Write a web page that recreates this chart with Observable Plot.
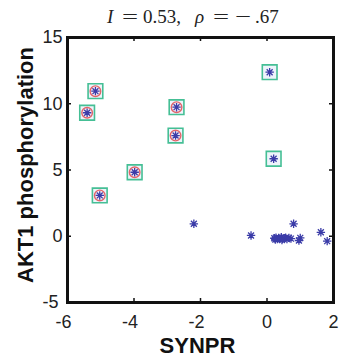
<!DOCTYPE html>
<html>
<head>
<meta charset="utf-8">
<script src="https://cdn.jsdelivr.net/npm/d3@7"></script>
<script src="https://cdn.jsdelivr.net/npm/@observablehq/plot@0.6"></script>
<style>
  html, body { margin: 0; padding: 0; background: #fff; }
  #wrap { width: 339px; }
  #title { position: relative; height: 30px; width: 339px;
    font-family: "Liberation Serif", "DejaVu Serif", serif; font-size: 19px; color: #222; line-height: 19px; }
  #title span { position: absolute; top: 7px; white-space: nowrap; display: inline-block; }
  #title .w { transform: scaleX(1.5); transform-origin: left center; }
</style>
</head>
<body>
<div id="wrap">
  <div id="title" aria-label="I = 0.53, ρ = −.67"><span style="left:107px"><i>I</i></span><span class="w" style="left:122px">=</span><span style="left:143px">0.53,</span><span style="left:195px"><i>ρ</i></span><span class="w" style="left:213px">=</span><span class="w" style="left:235px">−</span><span style="left:255px">.67</span></div>
  <div id="chart"></div>
</div>
<script>
// Selected points (blue star + red circle + green square)
const selX = [-5.16, -5.41, -2.72, -2.75, -3.98, -5.03];
const selY = [10.95, 9.32, 9.74, 7.60, 4.83, 3.08];
// Points with star + green square only
const boxX = [0.08, 0.20];
const boxY = [12.38, 5.85];
// Plain star points
const otherX = [-2.20, -0.48, 0.80, 1.00, 0.96, 1.62, 1.81, 0.22, 0.27, 0.31, 0.35, 0.39, 0.43, 0.47, 0.52, 0.56, 0.60, 0.66, 0.72, 0.25, 0.45];
const otherY = [0.94, 0.06, 0.94, -0.12, -0.32, 0.30, -0.37, -0.15, -0.10, -0.22, -0.12, -0.18, -0.08, -0.20, -0.14, -0.10, -0.22, -0.12, -0.18, -0.25, -0.28];
const xTicks = [-6, -4, -2, 0, 2];
const yTicks = [-5, 0, 5, 10, 15];
const xLabel = "SYNPR";
const yLabel = "AKT1 phosphorylation";

const sel = selX.map((x, i) => ({x, y: selY[i]}));
const box = boxX.map((x, i) => ({x, y: boxY[i]}));
const other = otherX.map((x, i) => ({x, y: otherY[i]}));
const allStars = [...sel, ...box, ...other];
const boxed = [...sel, ...box];

const asterisk8 = {
  draw(ctx, size) {
    const r = Math.sqrt(size / Math.PI);
    const d = r * Math.SQRT1_2;
    ctx.moveTo(-r, 0); ctx.lineTo(r, 0);
    ctx.moveTo(0, -r); ctx.lineTo(0, r);
    ctx.moveTo(-d, -d); ctx.lineTo(d, d);
    ctx.moveTo(-d, d); ctx.lineTo(d, -d);
  }
};

const fmt = d => String(d);
const tickFont = {fontSize: 18, fill: "#222"};
const fw = 266, fh = 265;

const chart = Plot.plot({
  width: 339,
  height: 328,
  marginLeft: 67,
  marginRight: 6,
  marginTop: 7,
  marginBottom: 56,
  style: {fontFamily: "'Liberation Sans', Arial, sans-serif", background: "#fff", overflow: "visible"},
  x: {domain: [-6, 2]},
  y: {domain: [-5, 15]},
  marks: [
    Plot.axisX(xTicks.filter(d => d < 0), {tickSize: 0, tickPadding: 13, dx: -4, tickFormat: fmt, label: null, ...tickFont}),
    Plot.axisX(xTicks.filter(d => d >= 0), {tickSize: 0, tickPadding: 13, tickFormat: fmt, label: null, ...tickFont}),
    Plot.axisY(yTicks.filter(d => d < 0), {tickSize: 0, tickPadding: 5, dx: -4, tickFormat: fmt, label: null, ...tickFont}),
    Plot.axisY(yTicks.filter(d => d >= 0), {tickSize: 0, tickPadding: 5, tickFormat: fmt, label: null, ...tickFont}),
    Plot.tickX(xTicks, {x: d => d, insetTop: fh - 4, stroke: "#111", strokeWidth: 1.5}),
    Plot.tickX(xTicks, {x: d => d, insetBottom: fh - 4, stroke: "#111", strokeWidth: 1.5}),
    Plot.tickY(yTicks, {y: d => d, insetRight: fw - 4, stroke: "#111", strokeWidth: 1.5}),
    Plot.tickY(yTicks, {y: d => d, insetLeft: fw - 4, stroke: "#111", strokeWidth: 1.5}),
    Plot.frame({stroke: "#111", strokeWidth: 3}),
    Plot.dot(boxed, {x: "x", y: "y", symbol: "square", r: 8.3, stroke: "#45bf95", strokeWidth: 1.6, fill: "#eef4fb"}),
    Plot.dot(sel, {x: "x", y: "y", symbol: "circle", r: 5.3, stroke: "#e2646a", strokeWidth: 1.4, fill: "#f4eef6"}),
    Plot.dot(allStars, {x: "x", y: "y", symbol: asterisk8, r: 4.2, stroke: "#3b3ca8", strokeWidth: 1.3}),
    Plot.text([xLabel], {frameAnchor: "bottom", lineAnchor: "middle", textAnchor: "middle", dy: 43, dx: -3, fontSize: 22, fontWeight: "bold", fill: "#111"}),
    Plot.text([yLabel], {frameAnchor: "left", lineAnchor: "middle", textAnchor: "middle", dx: -42, dy: -5, rotate: -90, fontSize: 22, fontWeight: "bold", fill: "#111"})
  ]
});
document.getElementById("chart").appendChild(chart);
</script>
</body>
</html>
